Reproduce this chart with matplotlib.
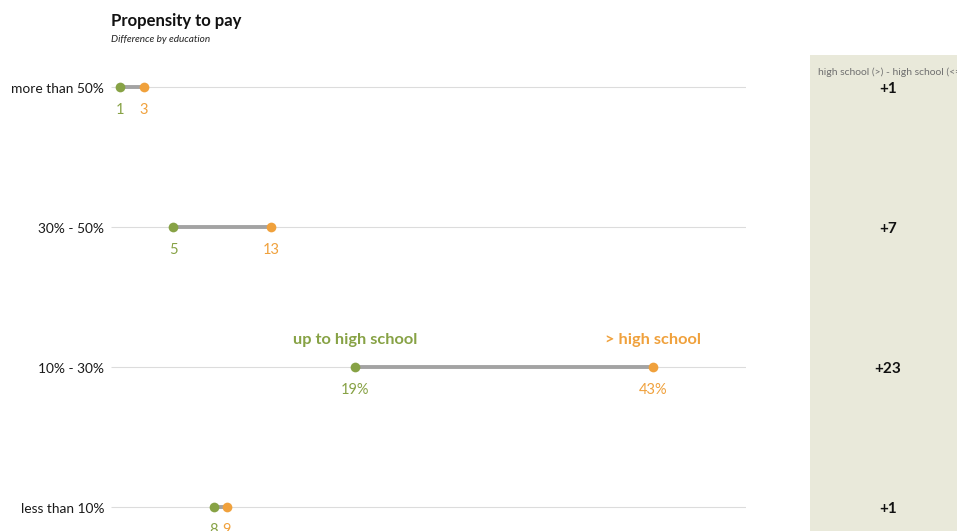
import matplotlib
matplotlib.use("Agg")
import matplotlib.pyplot as plt
from matplotlib.patches import Rectangle
from matplotlib.transforms import blended_transform_factory

categories = ["more than 50%", "30% - 50%", "10% - 30%", "less than 10%"]
low_vals = [0.7, 4.9, 19.2, 8.1]      # up to high school
high_vals = [2.6, 12.6, 42.7, 9.1]    # > high school
diff_vals = [1, 7, 23, 1]
series_names = ["up to high school", "> high school"]
diff_header = "high school (>) - high school (<=)"
title = "Propensity to pay"
subtitle = "Difference by education"

GREEN = "#87A245"
ORANGE = "#F0A13C"
GRAY = "#A3A3A3"
FONT = "Lato"

W, H = 957, 531
fig = plt.figure(figsize=(W / 100, H / 100), dpi=100)
fig.patch.set_facecolor("white")

# right panel background (drawn beneath everything)
fig.patches.append(Rectangle((810 / W, 0), 200 / W, (H - 55) / H, transform=fig.transFigure,
                             facecolor="#E9E9DA", edgecolor="none", zorder=-5))

ax_l, ax_r = 111 / W, 746 / W
ax = fig.add_axes([ax_l, 0, ax_r - ax_l, 1])
ax.set_xlim(0, 50)
top_px, step = 87, 140
ax.set_ylim(3 + (H - 507) / step, -top_px / step)
ax.axis("off")

ys = list(range(len(categories)))
for y in ys:
    ax.plot([0, 50], [y, y], color="#DCDCDC", lw=0.8, zorder=1, solid_capstyle="butt")

for i, (lo, hi) in enumerate(zip(low_vals, high_vals)):
    ax.plot([lo, hi], [i, i], color=GRAY, lw=2.8, zorder=2, solid_capstyle="butt")
    ax.plot([lo], [i], "o", color=GREEN, ms=7, zorder=3, mec="none")
    ax.plot([hi], [i], "o", color=ORANGE, ms=7, zorder=3, mec="none")
    suffix = "%" if i == 2 else ""
    ax.annotate(f"{lo:.0f}{suffix}", (lo, i), xytext=(0, -16.5), textcoords="offset points",
                ha="center", va="center", color=GREEN, fontsize=10.5, family=FONT)
    ax.annotate(f"{hi:.0f}{suffix}", (hi, i), xytext=(0, -16.5), textcoords="offset points",
                ha="center", va="center", color=ORANGE, fontsize=10.5, family=FONT)
    ax.annotate(categories[i], (0, i), xytext=(-5, -1.2), textcoords="offset points",
                ha="right", va="center", color="#1a1a1a", fontsize=9.9, family=FONT,
                annotation_clip=False)

# series labels on the 10%-30% row
ax.annotate(series_names[0], (low_vals[2], 2), xytext=(0, 19.5), textcoords="offset points",
            ha="center", va="center", color=GREEN, fontsize=11.8, fontweight="bold", family=FONT)
ax.annotate(series_names[1], (high_vals[2], 2), xytext=(0, 19.5), textcoords="offset points",
            ha="center", va="center", color=ORANGE, fontsize=11.8, fontweight="bold", family=FONT)

# title
fig.text(111 / W, 1 - 21 / H, title, ha="left", va="center", fontsize=12,
         fontweight="bold", family=FONT, color="#111111")
fig.text(111 / W, 1 - 39 / H, subtitle, ha="left", va="center", fontsize=7.2,
         style="italic", family=FONT, color="#222222")

fig.text(818 / W, 1 - 72 / H, diff_header, ha="left", va="center", fontsize=7.5,
         family=FONT, color="#707070")
tr = blended_transform_factory(fig.transFigure, ax.transData)
for i, d in enumerate(diff_vals):
    ax.annotate(f"+{d}", (888 / W, i), xycoords=tr, xytext=(0, -1.2), textcoords="offset points",
                ha="center", va="center", fontsize=11, fontweight="bold", family=FONT,
                color="#111111", annotation_clip=False)

fig.savefig("out.png", dpi=100)
